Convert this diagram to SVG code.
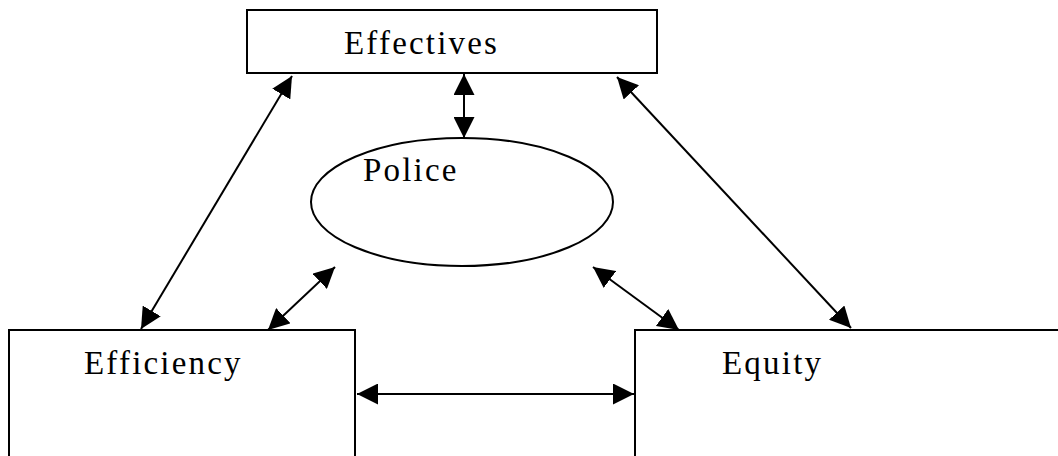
<svg xmlns="http://www.w3.org/2000/svg" width="1058" height="456" viewBox="0 0 1058 456">
  <style>
    .box { fill: #ffffff; stroke: #000000; stroke-width: 2; }
    .lbl { font-family: "Liberation Serif", "Times New Roman", serif; font-size: 33px; letter-spacing: 2.2px; fill: #000000; }
    .conn { stroke: #000000; stroke-width: 2; fill: none; marker-start: url(#ah); marker-end: url(#ah); }
  </style>
  <defs>
    <marker id="ah" markerUnits="userSpaceOnUse" markerWidth="21" markerHeight="21" refX="21" refY="10.5" orient="auto-start-reverse" viewBox="0 0 21 21">
      <path d="M0,0 L21,10.5 L0,21 Z" fill="#000000"/>
    </marker>
  </defs>
  <rect x="0" y="0" width="1058" height="456" fill="#ffffff"/>
  <g id="effectives">
    <rect class="box" x="247" y="10" width="410" height="63"/>
    <text class="lbl" x="344" y="54">Effectives</text>
  </g>
  <g id="police">
    <ellipse class="box" cx="462" cy="202" rx="151" ry="64"/>
    <text class="lbl" x="363" y="181">Police</text>
  </g>
  <g id="efficiency">
    <rect class="box" x="9" y="330" width="346" height="140"/>
    <text class="lbl" x="84" y="374">Efficiency</text>
  </g>
  <g id="equity">
    <rect class="box" x="635" y="330" width="440" height="140"/>
    <text class="lbl" x="722" y="374">Equity</text>
  </g>
  <g id="connectors">
    <line class="conn" x1="464" y1="74" x2="464" y2="138"/>
    <line class="conn" x1="292" y1="76" x2="141" y2="329"/>
    <line class="conn" x1="617" y1="77" x2="851" y2="328"/>
    <line class="conn" x1="335" y1="267" x2="268" y2="330"/>
    <line class="conn" x1="593" y1="267" x2="679" y2="330"/>
    <line class="conn" x1="357" y1="394" x2="634" y2="394"/>
  </g>
</svg>
